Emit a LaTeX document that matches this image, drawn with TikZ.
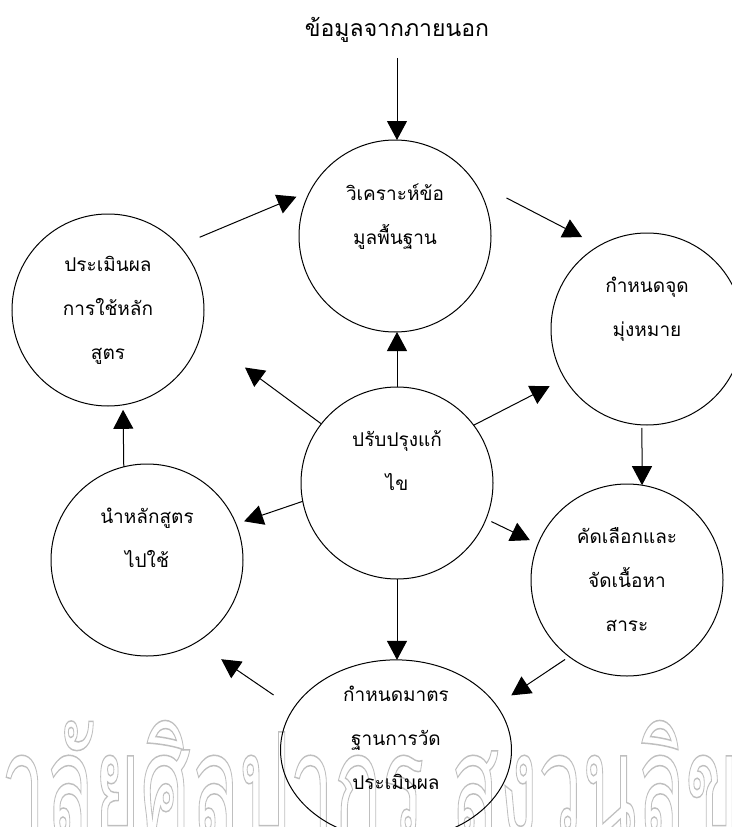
\documentclass[tikz,border=0pt]{standalone}
\usepackage{fontspec}
\newfontfamily\thai[Script=Thai]{Loma}
\usetikzlibrary{arrows.meta,shapes.geometric}
\begin{document}
\begin{tikzpicture}[x=1pt,y=-1pt,
  circ/.style={circle,draw,line width=1pt,minimum size=192pt,inner sep=0pt,outer sep=0pt,
    align=center,font=\thai\fontsize{19}{44}\selectfont},
  ell/.style={ellipse,draw,line width=1pt,minimum width=231pt,minimum height=156pt,inner sep=0pt,outer sep=0pt,
    align=center,font=\thai\fontsize{19}{44}\selectfont},
  arr/.style={line width=1pt,-{Triangle[length=19pt,width=20pt]}},
  wm/.style={text=black!25,font=\thai\fontsize{144}{144}\selectfont,inner sep=0pt,anchor=base}]
\useasboundingbox (0,0) rectangle (731,827);
% watermark
\node[wm] (wmark) at (370,836) {\scalebox{0.55}[1]{\special{pdf:literal direct 1 Tr 1.5 w}าลัยศิลปากร สงวนลิข\special{pdf:literal direct 0 Tr}}};
% title
\node[font=\thai\fontsize{23}{28}\selectfont,inner sep=0pt] (title) at (397,30) {ข้อมูลจากภายนอก};
% circles
\node[circ] (c1) at (395,236) {วิเคราะห์ข้อ\\มูลพื้นฐาน\\~};
\node[circ] (c2) at (108,310) {ประเมินผล\\การใช้หลัก\\สูตร};
\node[circ] (c3) at (647,329) {กำหนดจุด\\มุ่งหมาย\\~};
\node[circ] (c4) at (397,483) {ปรับปรุงแก้\\ไข\\~};
\node[circ] (c5) at (147,560) {นำหลักสูตร\\ไปใช้\\~};
\node[circ] (c6) at (627,580) {คัดเลือกและ\\จัดเนื้อหา\\สาระ};
\node[ell] (c7) at (396,750) {กำหนดมาตร\\ฐานการวัด\\ประเมินผล\\[-20pt]~};
% cycle arrows
\draw[arr,shorten <=15pt] (title) -- (title |- c1.north);
\draw[arr,shorten <=22pt,shorten >=15pt] (c2.42) -- (c1.152);
\draw[arr,shorten <=37pt,shorten >=19pt] (c1.35) -- (c3.120);
\draw[arr,shorten <=3pt] (c3.267) -- (c6.81);
\draw[arr,shorten <=5pt,shorten >=18pt] (c6.233) -- (c7.24);
\draw[arr,shorten <=24pt,shorten >=30pt] (c7.158) -- (c5.301);
\draw[arr,shorten >=5pt] (c5.104.5) -- (c2.279);
% from center
\draw[arr] (c4.north) -- (c4.north |- c1.south);
\draw[arr,shorten >=55pt] (c4.142.5) -- (c2.345);
\draw[arr,shorten >=17pt] (c4.37.6) -- (c3.211.8);
\draw[arr,shorten >=8.5pt] (c4.191.2) -- (c5.22.3);
\draw[arr,shorten <=6pt,shorten >=9pt] (c4.338.5) -- (c6.158);
\draw[arr] (c4.south) -- (c4.south |- c7.north);
\end{tikzpicture}
\end{document}
